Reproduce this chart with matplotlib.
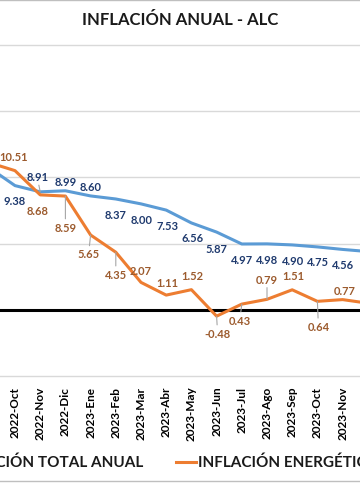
import matplotlib.pyplot as plt
from matplotlib.lines import Line2D

plt.rcParams['font.family'] = ['Lato', 'DejaVu Sans']

# monthly annual inflation, Latin America & Caribbean (%)
months = ["2022-Sep", "2022-Oct", "2022-Nov", "2022-Dic", "2023-Ene", "2023-Feb",
          "2023-Mar", "2023-Abr", "2023-May", "2023-Jun", "2023-Jul", "2023-Ago",
          "2023-Sep", "2023-Oct", "2023-Nov", "2023-Dic"]
total = [10.70, 9.38, 8.91, 8.99, 8.60, 8.37, 8.00, 7.53, 6.56, 5.87,
         4.97, 4.98, 4.90, 4.75, 4.56, 4.40]
energy = [11.10, 10.51, 8.68, 8.59, 5.65, 4.35, 2.07, 1.11, 1.52, -0.48,
          0.43, 0.79, 1.51, 0.64, 0.77, 0.50]

# label placement (pixels, dy positive = downwards) and which ones get a leader line
total_off = [(-14, 15), (0, 15), (-3, -15), (0, -9), (0, -9), (0, 16), (1, 16), (1, 15),
             (1, 15), (0, 16), (0, 16), (0, 16), (1, 16), (1, 15), (0, 15), (4, 15)]
energy_off = [(-12, -16), (-1, -14), (-3, 16), (0, 31), (-2, 19), (0, 22), (0, -12), (1, -13),
              (1, -14), (1, 17), (-2, 16), (0, -20), (1, -14), (1, 25), (2, -9), (4, -12)]
total_lead = {2}
energy_lead = {3, 4, 5, 9, 10, 11, 13}

BLUE = '#5B9BD5'
ORANGE = '#ED7D31'
BLUE_TXT = '#1F3A6E'
ORANGE_TXT = '#9C5B2E'
LEAD = '#A6A6A6'

W, H = 360, 485
fig = plt.figure(figsize=(W / 100, H / 100), dpi=100)
ax = fig.add_axes([0, 108 / H, 1, 331 / H])

x = list(range(len(months)))
step = 25.2
ax.set_xlim(1 - 15 / step, 1 + (W - 15) / step)
ax.set_ylim(-5, 20)

for v in [-5, 5, 10, 15, 20]:
    ax.axhline(v, color='#D9D9D9', lw=1, clip_on=False, zorder=0)
ax.axhline(0, color='black', lw=2.2, zorder=1)

ax.plot(x, total, color=BLUE, lw=2.2, zorder=3, clip_on=False)
ax.plot(x, energy, color=ORANGE, lw=2.2, zorder=4, clip_on=False)


def put_labels(vals, offs, lead, col):
    for i, (v, (dx, dy)) in enumerate(zip(vals, offs)):
        props = None
        if i in lead:
            props = dict(arrowstyle='-', color=LEAD, lw=0.8, shrinkA=0, shrinkB=0)
        ax.annotate("{:.2f}".format(v), (i, v), xytext=(dx, -dy),
                    textcoords='offset pixels', ha='center', va='center',
                    fontsize=8, fontweight='bold', color=col,
                    arrowprops=props, annotation_clip=False, zorder=5)


put_labels(total, total_off, total_lead, BLUE_TXT)
put_labels(energy, energy_off, energy_lead, ORANGE_TXT)

# only the months that fall fully inside the picture get a tick label
ax.set_xticks(x[1:-1])
ax.set_xticklabels(months[1:-1], rotation=90, fontsize=8.5, fontweight='bold')
ax.tick_params(axis='x', length=0, pad=7)
ax.tick_params(axis='y', left=False, labelleft=False)
for s in ax.spines.values():
    s.set_visible(False)

fig.text(0.5, (H - 20) / H, "INFLACIÓN ANUAL - ALC", ha='center', va='center',
         fontsize=12, fontweight='bold', color='#1a1a1a')

# legend, drawn by hand
ly = (H - 463) / H
fig.text(143 / W, ly, "INFLACIÓN TOTAL ANUAL", ha='right', va='center',
         fontsize=11, fontweight='bold', color='#1a1a1a')
fig.text(198 / W, ly, "INFLACIÓN ENERGÉTICA", ha='left', va='center',
         fontsize=11, fontweight='bold', color='#1a1a1a')
fig.add_artist(Line2D([176 / W, 196 / W], [ly, ly], color=ORANGE, lw=2.2))

# chart border (top and bottom)
fig.add_artist(Line2D([0, 1], [(H - 1) / H, (H - 1) / H], color='#BFBFBF', lw=1))
fig.add_artist(Line2D([0, 1], [3 / H, 3 / H], color='#BFBFBF', lw=1))

fig.savefig('out.png', dpi=100)
